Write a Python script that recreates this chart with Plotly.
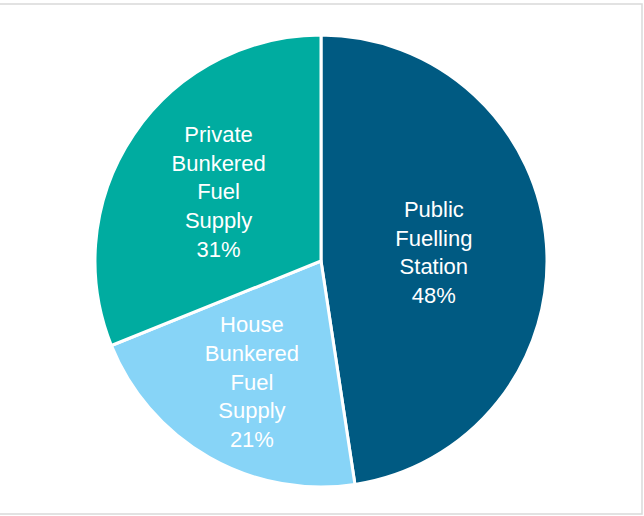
import plotly.graph_objects as go

labels = ["Public<br>Fuelling<br>Station", "House<br>Bunkered<br>Fuel<br>Supply", "Private<br>Bunkered<br>Fuel<br>Supply"]
values = [47.6, 21.3, 31.1]
colors = ["#005A82", "#87D4F7", "#00ACA0"]

W, H = 644, 516
cx, cy, r = 321, 261, 226

fig = go.Figure(go.Pie(
    labels=labels,
    values=values,
    sort=False,
    direction="clockwise",
    rotation=0,
    marker=dict(colors=colors, line=dict(color="white", width=3)),
    texttemplate="%{label}<br>%{percent:.0%}",
    textposition="inside",
    insidetextorientation="horizontal",
    textfont=dict(family="Liberation Sans, Arial", size=22, color="white"),
    hoverinfo="label+percent",
    showlegend=False,
    domain=dict(x=[(cx - r) / W, (cx + r) / W], y=[1 - (cy + r) / H, 1 - (cy - r) / H]),
))

fig.update_layout(
    width=W, height=H,
    margin=dict(l=0, r=0, t=0, b=0),
    paper_bgcolor="white",
    plot_bgcolor="white",
    uniformtext=dict(minsize=22, mode="show"),
    shapes=[dict(type="rect", xref="paper", yref="paper",
                 x0=-0.01, x1=642 / W, y0=1 - 514 / H, y1=1 - 4 / H,
                 line=dict(color="#D9D9D9", width=1.5), fillcolor="rgba(0,0,0,0)")],
)

fig.write_html("out.html", config={"displayModeBar": False},
               post_script="document.body.style.margin='0';document.body.style.overflow='hidden';")
